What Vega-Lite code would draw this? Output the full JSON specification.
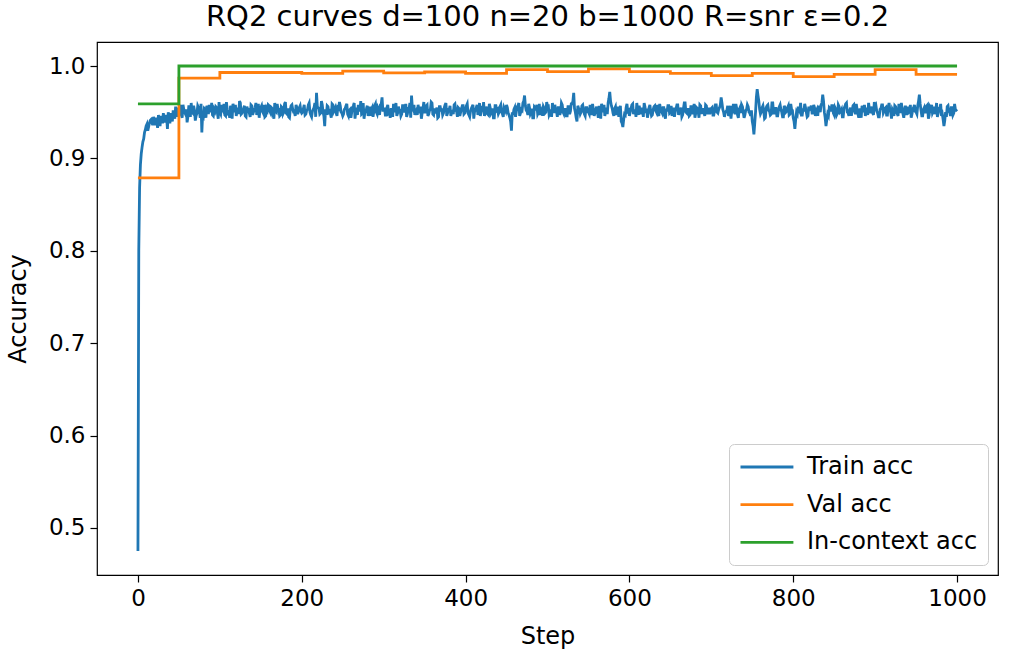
{
"$schema": "https://vega.github.io/schema/vega-lite/v6.json",
"width": 901, "height": 533,
"autosize": {"type": "none"},
"padding": {"left": 97, "top": 42, "right": 12, "bottom": 82},
"background": "white",
"config": {"font": "DejaVu Sans", "view": {"stroke": "black", "strokeWidth": 1.2}},
"title": {"text": "RQ2 curves d=100 n=20 b=1000 R=snr ε=0.2", "fontSize": 29, "fontWeight": "normal", "font": "DejaVu Sans", "color": "black", "offset": 10, "anchor": "middle"},
"datasets": {
"train": [
{"step":0,"acc":0.475},{"step":1,"acc":0.800},{"step":2,"acc":0.868},{"step":3,"acc":0.893},{"step":4,"acc":0.905},{"step":5,"acc":0.912},{"step":6,"acc":0.918},{"step":7,"acc":0.921},{"step":8,"acc":0.928},
{"step":10,"acc":0.935},{"step":12,"acc":0.930},{"step":14,"acc":0.938},{"step":16,"acc":0.942},{"step":18,"acc":0.936},{"step":20,"acc":0.941},{"step":22,"acc":0.944},{"step":24,"acc":0.933},{"step":26,"acc":0.940},{"step":28,"acc":0.946},{"step":30,"acc":0.938},{"step":32,"acc":0.943},{"step":34,"acc":0.947},{"step":36,"acc":0.932},{"step":38,"acc":0.944},{"step":40,"acc":0.949},{"step":42,"acc":0.940},{"step":44,"acc":0.948},{"step":46,"acc":0.956},{"step":48,"acc":0.945},
{"step":50,"acc":0.952},{"step":52,"acc":0.958},{"step":54,"acc":0.944},{"step":56,"acc":0.953},{"step":58,"acc":0.948},{"step":60,"acc":0.939},{"step":62,"acc":0.956},{"step":64,"acc":0.945},{"step":66,"acc":0.950},{"step":68,"acc":0.957},{"step":70,"acc":0.941},{"step":72,"acc":0.949},{"step":74,"acc":0.955},{"step":76,"acc":0.944},{"step":78,"acc":0.928},{"step":80,"acc":0.946},{"step":82,"acc":0.953},
{"step":84,"acc":0.957},{"step":86,"acc":0.948},{"step":88,"acc":0.953},{"step":90,"acc":0.960},{"step":92,"acc":0.946},{"step":94,"acc":0.951},{"step":96,"acc":0.955},{"step":98,"acc":0.943},{"step":100,"acc":0.950},{"step":102,"acc":0.958},{"step":104,"acc":0.952},{"step":106,"acc":0.947},{"step":108,"acc":0.961},{"step":110,"acc":0.949},{"step":112,"acc":0.944},{"step":114,"acc":0.954},{"step":116,"acc":0.959},{"step":118,"acc":0.950},{"step":120,"acc":0.946},{"step":122,"acc":0.955},{"step":124,"acc":0.962},{"step":126,"acc":0.948},{"step":128,"acc":0.951},{"step":130,"acc":0.957},{"step":132,"acc":0.945},{"step":134,"acc":0.953},{"step":136,"acc":0.949},{"step":138,"acc":0.958},{"step":140,"acc":0.947},{"step":142,"acc":0.952},{"step":144,"acc":0.960},{"step":146,"acc":0.950},{"step":148,"acc":0.944},
{"step":150,"acc":0.955},{"step":152,"acc":0.951},{"step":154,"acc":0.958},{"step":156,"acc":0.946},{"step":158,"acc":0.952},{"step":160,"acc":0.957},{"step":162,"acc":0.949},{"step":164,"acc":0.954},{"step":166,"acc":0.943},{"step":168,"acc":0.951},{"step":170,"acc":0.959},{"step":172,"acc":0.953},{"step":174,"acc":0.947},{"step":176,"acc":0.955},{"step":178,"acc":0.950},{"step":180,"acc":0.961},{"step":182,"acc":0.948},{"step":184,"acc":0.945},{"step":186,"acc":0.953},{"step":188,"acc":0.958},{"step":190,"acc":0.950},{"step":192,"acc":0.946},{"step":194,"acc":0.955},{"step":196,"acc":0.951},{"step":198,"acc":0.957},
{"step":200,"acc":0.949},{"step":202,"acc":0.954},{"step":204,"acc":0.947},{"step":206,"acc":0.952},{"step":208,"acc":0.958},{"step":210,"acc":0.950},{"step":212,"acc":0.945},{"step":214,"acc":0.953},{"step":216,"acc":0.960},{"step":218,"acc":0.971},{"step":220,"acc":0.955},{"step":222,"acc":0.948},{"step":224,"acc":0.962},{"step":226,"acc":0.950},{"step":228,"acc":0.935},{"step":230,"acc":0.947},{"step":232,"acc":0.956},{"step":234,"acc":0.951},{"step":236,"acc":0.944},{"step":238,"acc":0.958},{"step":240,"acc":0.953},{"step":242,"acc":0.949},{"step":244,"acc":0.955},{"step":246,"acc":0.961},{"step":248,"acc":0.950},
{"step":250,"acc":0.946},{"step":252,"acc":0.953},{"step":254,"acc":0.957},{"step":256,"acc":0.948},{"step":258,"acc":0.952},{"step":260,"acc":0.944},{"step":262,"acc":0.955},{"step":264,"acc":0.960},{"step":266,"acc":0.951},{"step":268,"acc":0.947},{"step":270,"acc":0.954},{"step":272,"acc":0.962},{"step":274,"acc":0.949},{"step":276,"acc":0.943},{"step":278,"acc":0.952},{"step":280,"acc":0.957},{"step":282,"acc":0.950},{"step":284,"acc":0.946},{"step":286,"acc":0.955},{"step":288,"acc":0.951},{"step":290,"acc":0.959},{"step":292,"acc":0.948},{"step":294,"acc":0.953},{"step":296,"acc":0.958},{"step":298,"acc":0.966},
{"step":300,"acc":0.952},{"step":302,"acc":0.947},{"step":304,"acc":0.955},{"step":306,"acc":0.949},{"step":308,"acc":0.944},{"step":310,"acc":0.953},{"step":312,"acc":0.959},{"step":314,"acc":0.950},{"step":316,"acc":0.946},{"step":318,"acc":0.956},{"step":320,"acc":0.952},{"step":322,"acc":0.948},{"step":324,"acc":0.957},{"step":326,"acc":0.951},{"step":328,"acc":0.945},{"step":330,"acc":0.954},{"step":332,"acc":0.960},{"step":334,"acc":0.968},{"step":336,"acc":0.953},{"step":338,"acc":0.947},{"step":340,"acc":0.952},{"step":342,"acc":0.958},{"step":344,"acc":0.949},{"step":346,"acc":0.943},{"step":348,"acc":0.954},
{"step":350,"acc":0.950},{"step":352,"acc":0.957},{"step":354,"acc":0.946},{"step":356,"acc":0.952},{"step":358,"acc":0.961},{"step":360,"acc":0.948},{"step":362,"acc":0.954},{"step":364,"acc":0.950},{"step":366,"acc":0.944},{"step":368,"acc":0.956},{"step":370,"acc":0.951},{"step":372,"acc":0.947},{"step":374,"acc":0.955},{"step":376,"acc":0.960},{"step":378,"acc":0.949},{"step":380,"acc":0.953},{"step":382,"acc":0.946},{"step":384,"acc":0.951},{"step":386,"acc":0.958},{"step":388,"acc":0.952},{"step":390,"acc":0.945},{"step":392,"acc":0.954},{"step":394,"acc":0.950},{"step":396,"acc":0.957},{"step":398,"acc":0.948},
{"step":400,"acc":0.953},{"step":402,"acc":0.959},{"step":404,"acc":0.947},{"step":406,"acc":0.951},{"step":408,"acc":0.956},{"step":410,"acc":0.943},{"step":412,"acc":0.952},{"step":414,"acc":0.958},{"step":416,"acc":0.950},{"step":418,"acc":0.946},{"step":420,"acc":0.954},{"step":422,"acc":0.961},{"step":424,"acc":0.949},{"step":426,"acc":0.953},{"step":428,"acc":0.947},{"step":430,"acc":0.955},{"step":432,"acc":0.951},{"step":434,"acc":0.944},{"step":436,"acc":0.957},{"step":438,"acc":0.952},{"step":440,"acc":0.948},{"step":442,"acc":0.956},{"step":444,"acc":0.950},{"step":446,"acc":0.945},{"step":448,"acc":0.953},
{"step":450,"acc":0.958},{"step":452,"acc":0.949},{"step":454,"acc":0.944},{"step":456,"acc":0.930},{"step":458,"acc":0.947},{"step":460,"acc":0.955},{"step":462,"acc":0.951},{"step":464,"acc":0.957},{"step":466,"acc":0.946},{"step":468,"acc":0.953},{"step":470,"acc":0.960},{"step":472,"acc":0.968},{"step":474,"acc":0.952},{"step":476,"acc":0.947},{"step":478,"acc":0.955},{"step":480,"acc":0.950},{"step":482,"acc":0.944},{"step":484,"acc":0.956},{"step":486,"acc":0.952},{"step":488,"acc":0.948},{"step":490,"acc":0.959},{"step":492,"acc":0.951},{"step":494,"acc":0.946},{"step":496,"acc":0.954},{"step":498,"acc":0.950},
{"step":500,"acc":0.957},{"step":502,"acc":0.947},{"step":504,"acc":0.953},{"step":506,"acc":0.960},{"step":508,"acc":0.949},{"step":510,"acc":0.952},{"step":512,"acc":0.945},{"step":514,"acc":0.955},{"step":516,"acc":0.950},{"step":518,"acc":0.958},{"step":520,"acc":0.948},{"step":522,"acc":0.953},{"step":524,"acc":0.946},{"step":526,"acc":0.956},{"step":528,"acc":0.951},{"step":530,"acc":0.959},{"step":532,"acc":0.971},{"step":534,"acc":0.950},{"step":536,"acc":0.940},{"step":538,"acc":0.954},{"step":540,"acc":0.948},{"step":542,"acc":0.957},{"step":544,"acc":0.952},{"step":546,"acc":0.946},{"step":548,"acc":0.955},
{"step":550,"acc":0.950},{"step":552,"acc":0.958},{"step":554,"acc":0.947},{"step":556,"acc":0.953},{"step":558,"acc":0.949},{"step":560,"acc":0.956},{"step":562,"acc":0.944},{"step":564,"acc":0.952},{"step":566,"acc":0.959},{"step":568,"acc":0.950},{"step":570,"acc":0.946},{"step":572,"acc":0.955},{"step":574,"acc":0.960},{"step":576,"acc":0.972},{"step":578,"acc":0.957},{"step":580,"acc":0.949},{"step":582,"acc":0.954},{"step":584,"acc":0.947},{"step":586,"acc":0.956},{"step":588,"acc":0.951},{"step":590,"acc":0.940},{"step":592,"acc":0.934},{"step":594,"acc":0.948},{"step":596,"acc":0.955},{"step":598,"acc":0.951},
{"step":600,"acc":0.946},{"step":602,"acc":0.954},{"step":604,"acc":0.959},{"step":606,"acc":0.950},{"step":608,"acc":0.945},{"step":610,"acc":0.953},{"step":612,"acc":0.957},{"step":614,"acc":0.948},{"step":616,"acc":0.952},{"step":618,"acc":0.960},{"step":620,"acc":0.949},{"step":622,"acc":0.944},{"step":624,"acc":0.955},{"step":626,"acc":0.951},{"step":628,"acc":0.947},{"step":630,"acc":0.956},{"step":632,"acc":0.952},{"step":634,"acc":0.958},{"step":636,"acc":0.946},{"step":638,"acc":0.953},{"step":640,"acc":0.949},{"step":642,"acc":0.955},{"step":644,"acc":0.943},{"step":646,"acc":0.951},{"step":648,"acc":0.957},
{"step":650,"acc":0.950},{"step":652,"acc":0.946},{"step":654,"acc":0.955},{"step":656,"acc":0.951},{"step":658,"acc":0.958},{"step":660,"acc":0.947},{"step":662,"acc":0.952},{"step":664,"acc":0.945},{"step":666,"acc":0.954},{"step":668,"acc":0.960},{"step":670,"acc":0.949},{"step":672,"acc":0.953},{"step":674,"acc":0.947},{"step":676,"acc":0.956},{"step":678,"acc":0.951},{"step":680,"acc":0.944},{"step":682,"acc":0.955},{"step":684,"acc":0.950},{"step":686,"acc":0.958},{"step":688,"acc":0.948},{"step":690,"acc":0.953},{"step":692,"acc":0.946},{"step":694,"acc":0.957},{"step":696,"acc":0.951},{"step":698,"acc":0.948},
{"step":700,"acc":0.954},{"step":702,"acc":0.947},{"step":704,"acc":0.952},{"step":706,"acc":0.958},{"step":708,"acc":0.949},{"step":710,"acc":0.955},{"step":712,"acc":0.966},{"step":714,"acc":0.953},{"step":716,"acc":0.945},{"step":718,"acc":0.951},{"step":720,"acc":0.957},{"step":722,"acc":0.948},{"step":724,"acc":0.943},{"step":726,"acc":0.954},{"step":728,"acc":0.950},{"step":730,"acc":0.959},{"step":732,"acc":0.947},{"step":734,"acc":0.953},{"step":736,"acc":0.949},{"step":738,"acc":0.956},{"step":740,"acc":0.944},{"step":742,"acc":0.952},{"step":744,"acc":0.958},{"step":746,"acc":0.950},{"step":748,"acc":0.946},
{"step":750,"acc":0.940},{"step":752,"acc":0.926},{"step":754,"acc":0.950},{"step":756,"acc":0.975},{"step":758,"acc":0.962},{"step":760,"acc":0.948},{"step":762,"acc":0.955},{"step":764,"acc":0.951},{"step":766,"acc":0.944},{"step":768,"acc":0.957},{"step":770,"acc":0.952},{"step":772,"acc":0.947},{"step":774,"acc":0.960},{"step":776,"acc":0.949},{"step":778,"acc":0.954},{"step":780,"acc":0.946},{"step":782,"acc":0.952},{"step":784,"acc":0.958},{"step":786,"acc":0.950},{"step":788,"acc":0.945},{"step":790,"acc":0.955},{"step":792,"acc":0.951},{"step":794,"acc":0.957},{"step":796,"acc":0.948},{"step":798,"acc":0.953},
{"step":800,"acc":0.944},{"step":802,"acc":0.932},{"step":804,"acc":0.950},{"step":806,"acc":0.956},{"step":808,"acc":0.951},{"step":810,"acc":0.947},{"step":812,"acc":0.954},{"step":814,"acc":0.959},{"step":816,"acc":0.950},{"step":818,"acc":0.946},{"step":820,"acc":0.953},{"step":822,"acc":0.957},{"step":824,"acc":0.949},{"step":826,"acc":0.955},{"step":828,"acc":0.951},{"step":830,"acc":0.946},{"step":832,"acc":0.954},{"step":834,"acc":0.958},{"step":836,"acc":0.969},{"step":838,"acc":0.950},{"step":840,"acc":0.935},{"step":842,"acc":0.948},{"step":844,"acc":0.955},{"step":846,"acc":0.951},{"step":848,"acc":0.957},
{"step":850,"acc":0.947},{"step":852,"acc":0.953},{"step":854,"acc":0.949},{"step":856,"acc":0.956},{"step":858,"acc":0.951},{"step":860,"acc":0.945},{"step":862,"acc":0.954},{"step":864,"acc":0.959},{"step":866,"acc":0.950},{"step":868,"acc":0.946},{"step":870,"acc":0.955},{"step":872,"acc":0.952},{"step":874,"acc":0.958},{"step":876,"acc":0.948},{"step":878,"acc":0.953},{"step":880,"acc":0.944},{"step":882,"acc":0.951},{"step":884,"acc":0.957},{"step":886,"acc":0.950},{"step":888,"acc":0.946},{"step":890,"acc":0.955},{"step":892,"acc":0.960},{"step":894,"acc":0.949},{"step":896,"acc":0.953},{"step":898,"acc":0.947},
{"step":900,"acc":0.955},{"step":902,"acc":0.951},{"step":904,"acc":0.945},{"step":906,"acc":0.953},{"step":908,"acc":0.958},{"step":910,"acc":0.949},{"step":912,"acc":0.954},{"step":914,"acc":0.947},{"step":916,"acc":0.956},{"step":918,"acc":0.952},{"step":920,"acc":0.943},{"step":922,"acc":0.951},{"step":924,"acc":0.957},{"step":926,"acc":0.950},{"step":928,"acc":0.946},{"step":930,"acc":0.955},{"step":932,"acc":0.960},{"step":934,"acc":0.948},{"step":936,"acc":0.953},{"step":938,"acc":0.947},{"step":940,"acc":0.956},{"step":942,"acc":0.951},{"step":944,"acc":0.944},{"step":946,"acc":0.953},{"step":948,"acc":0.958},
{"step":950,"acc":0.950},{"step":952,"acc":0.957},{"step":954,"acc":0.969},{"step":956,"acc":0.952},{"step":958,"acc":0.946},{"step":960,"acc":0.955},{"step":962,"acc":0.950},{"step":964,"acc":0.958},{"step":966,"acc":0.947},{"step":968,"acc":0.953},{"step":970,"acc":0.949},{"step":972,"acc":0.956},{"step":974,"acc":0.951},{"step":976,"acc":0.945},{"step":978,"acc":0.954},{"step":980,"acc":0.959},{"step":982,"acc":0.948},{"step":984,"acc":0.935},{"step":986,"acc":0.950},{"step":988,"acc":0.956},{"step":990,"acc":0.951},{"step":992,"acc":0.946},{"step":994,"acc":0.955},{"step":996,"acc":0.949},{"step":998,"acc":0.953},{"step":1000,"acc":0.951},
{"step":9,"acc":0.931},{"step":11,"acc":0.937},{"step":13,"acc":0.934},{"step":15,"acc":0.941},{"step":17,"acc":0.939},{"step":19,"acc":0.945},{"step":21,"acc":0.936},{"step":23,"acc":0.940},{"step":25,"acc":0.947},{"step":27,"acc":0.935},{"step":29,"acc":0.943},{"step":31,"acc":0.949},{"step":33,"acc":0.939},{"step":35,"acc":0.944},{"step":37,"acc":0.950},{"step":39,"acc":0.938},{"step":41,"acc":0.946},{"step":43,"acc":0.952},{"step":45,"acc":0.943},{"step":47,"acc":0.950},{"step":49,"acc":0.955},
{"step":51,"acc":0.955},{"step":53,"acc":0.947},{"step":55,"acc":0.958},{"step":57,"acc":0.950},{"step":59,"acc":0.953},{"step":61,"acc":0.945},{"step":63,"acc":0.956},{"step":65,"acc":0.960},{"step":67,"acc":0.949},{"step":69,"acc":0.952},{"step":71,"acc":0.946},{"step":73,"acc":0.957},{"step":75,"acc":0.951},{"step":77,"acc":0.959},{"step":79,"acc":0.948},{"step":81,"acc":0.954},{"step":83,"acc":0.944},{"step":85,"acc":0.955},{"step":87,"acc":0.958},{"step":89,"acc":0.950},{"step":91,"acc":0.947},{"step":93,"acc":0.953},{"step":95,"acc":0.956},{"step":97,"acc":0.949},{"step":99,"acc":0.961},
{"step":101,"acc":0.948},{"step":103,"acc":0.954},{"step":105,"acc":0.959},{"step":107,"acc":0.946},{"step":109,"acc":0.953},{"step":111,"acc":0.950},{"step":113,"acc":0.957},{"step":115,"acc":0.943},{"step":117,"acc":0.955},{"step":119,"acc":0.958},{"step":121,"acc":0.951},{"step":123,"acc":0.948},{"step":125,"acc":0.960},{"step":127,"acc":0.949},{"step":129,"acc":0.954},{"step":131,"acc":0.946},{"step":133,"acc":0.956},{"step":135,"acc":0.953},{"step":137,"acc":0.945},{"step":139,"acc":0.957},{"step":141,"acc":0.950},{"step":143,"acc":0.955},{"step":145,"acc":0.947},{"step":147,"acc":0.959},{"step":149,"acc":0.952},
{"step":151,"acc":0.957},{"step":153,"acc":0.949},{"step":155,"acc":0.945},{"step":157,"acc":0.954},{"step":159,"acc":0.958},{"step":161,"acc":0.951},{"step":163,"acc":0.955},{"step":165,"acc":0.947},{"step":167,"acc":0.960},{"step":169,"acc":0.950},{"step":171,"acc":0.953},{"step":173,"acc":0.946},{"step":175,"acc":0.956},{"step":177,"acc":0.948},{"step":179,"acc":0.959},{"step":181,"acc":0.949},{"step":183,"acc":0.954},{"step":185,"acc":0.944},{"step":187,"acc":0.957},{"step":189,"acc":0.953},{"step":191,"acc":0.950},{"step":193,"acc":0.958},{"step":195,"acc":0.948},{"step":197,"acc":0.955},{"step":199,"acc":0.951},
{"step":201,"acc":0.950},{"step":203,"acc":0.958},{"step":205,"acc":0.948},{"step":207,"acc":0.953},{"step":209,"acc":0.960},{"step":211,"acc":0.947},{"step":213,"acc":0.951},{"step":215,"acc":0.955},{"step":217,"acc":0.945},{"step":219,"acc":0.956},{"step":221,"acc":0.954},{"step":223,"acc":0.949},{"step":225,"acc":0.958},{"step":227,"acc":0.946},{"step":229,"acc":0.953},{"step":231,"acc":0.957},{"step":233,"acc":0.950},{"step":235,"acc":0.948},{"step":237,"acc":0.959},{"step":239,"acc":0.951},{"step":241,"acc":0.955},{"step":243,"acc":0.946},{"step":245,"acc":0.954},{"step":247,"acc":0.957},{"step":249,"acc":0.949},
{"step":251,"acc":0.948},{"step":253,"acc":0.954},{"step":255,"acc":0.959},{"step":257,"acc":0.946},{"step":259,"acc":0.953},{"step":261,"acc":0.950},{"step":263,"acc":0.957},{"step":265,"acc":0.943},{"step":267,"acc":0.955},{"step":269,"acc":0.958},{"step":271,"acc":0.951},{"step":273,"acc":0.948},{"step":275,"acc":0.960},{"step":277,"acc":0.949},{"step":279,"acc":0.954},{"step":281,"acc":0.946},{"step":283,"acc":0.956},{"step":285,"acc":0.953},{"step":287,"acc":0.945},{"step":289,"acc":0.957},{"step":291,"acc":0.950},{"step":293,"acc":0.955},{"step":295,"acc":0.947},{"step":297,"acc":0.959},{"step":299,"acc":0.952},
{"step":301,"acc":0.955},{"step":303,"acc":0.947},{"step":305,"acc":0.958},{"step":307,"acc":0.950},{"step":309,"acc":0.953},{"step":311,"acc":0.945},{"step":313,"acc":0.956},{"step":315,"acc":0.960},{"step":317,"acc":0.949},{"step":319,"acc":0.952},{"step":321,"acc":0.946},{"step":323,"acc":0.957},{"step":325,"acc":0.951},{"step":327,"acc":0.959},{"step":329,"acc":0.948},{"step":331,"acc":0.954},{"step":333,"acc":0.944},{"step":335,"acc":0.955},{"step":337,"acc":0.958},{"step":339,"acc":0.950},{"step":341,"acc":0.947},{"step":343,"acc":0.953},{"step":345,"acc":0.956},{"step":347,"acc":0.949},{"step":349,"acc":0.961},
{"step":351,"acc":0.950},{"step":353,"acc":0.958},{"step":355,"acc":0.948},{"step":357,"acc":0.953},{"step":359,"acc":0.960},{"step":361,"acc":0.947},{"step":363,"acc":0.951},{"step":365,"acc":0.955},{"step":367,"acc":0.945},{"step":369,"acc":0.956},{"step":371,"acc":0.954},{"step":373,"acc":0.949},{"step":375,"acc":0.958},{"step":377,"acc":0.946},{"step":379,"acc":0.953},{"step":381,"acc":0.957},{"step":383,"acc":0.950},{"step":385,"acc":0.948},{"step":387,"acc":0.959},{"step":389,"acc":0.951},{"step":391,"acc":0.955},{"step":393,"acc":0.946},{"step":395,"acc":0.954},{"step":397,"acc":0.957},{"step":399,"acc":0.949},
{"step":401,"acc":0.957},{"step":403,"acc":0.949},{"step":405,"acc":0.945},{"step":407,"acc":0.954},{"step":409,"acc":0.958},{"step":411,"acc":0.951},{"step":413,"acc":0.955},{"step":415,"acc":0.947},{"step":417,"acc":0.960},{"step":419,"acc":0.950},{"step":421,"acc":0.953},{"step":423,"acc":0.946},{"step":425,"acc":0.956},{"step":427,"acc":0.948},{"step":429,"acc":0.959},{"step":431,"acc":0.949},{"step":433,"acc":0.954},{"step":435,"acc":0.944},{"step":437,"acc":0.957},{"step":439,"acc":0.953},{"step":441,"acc":0.950},{"step":443,"acc":0.958},{"step":445,"acc":0.948},{"step":447,"acc":0.955},{"step":449,"acc":0.951},
{"step":451,"acc":0.955},{"step":453,"acc":0.947},{"step":455,"acc":0.940},{"step":457,"acc":0.950},{"step":459,"acc":0.953},{"step":461,"acc":0.945},{"step":463,"acc":0.956},{"step":465,"acc":0.960},{"step":467,"acc":0.949},{"step":469,"acc":0.952},{"step":471,"acc":0.962},{"step":473,"acc":0.957},{"step":475,"acc":0.951},{"step":477,"acc":0.959},{"step":479,"acc":0.948},{"step":481,"acc":0.954},{"step":483,"acc":0.944},{"step":485,"acc":0.955},{"step":487,"acc":0.958},{"step":489,"acc":0.950},{"step":491,"acc":0.947},{"step":493,"acc":0.953},{"step":495,"acc":0.956},{"step":497,"acc":0.949},{"step":499,"acc":0.961},
{"step":501,"acc":0.957},{"step":503,"acc":0.949},{"step":505,"acc":0.945},{"step":507,"acc":0.954},{"step":509,"acc":0.958},{"step":511,"acc":0.951},{"step":513,"acc":0.955},{"step":515,"acc":0.947},{"step":517,"acc":0.960},{"step":519,"acc":0.950},{"step":521,"acc":0.953},{"step":523,"acc":0.946},{"step":525,"acc":0.956},{"step":527,"acc":0.948},{"step":529,"acc":0.959},{"step":531,"acc":0.962},{"step":533,"acc":0.954},{"step":535,"acc":0.944},{"step":537,"acc":0.957},{"step":539,"acc":0.953},{"step":541,"acc":0.950},{"step":543,"acc":0.958},{"step":545,"acc":0.948},{"step":547,"acc":0.955},{"step":549,"acc":0.951},
{"step":551,"acc":0.948},{"step":553,"acc":0.954},{"step":555,"acc":0.959},{"step":557,"acc":0.946},{"step":559,"acc":0.953},{"step":561,"acc":0.950},{"step":563,"acc":0.957},{"step":565,"acc":0.943},{"step":567,"acc":0.955},{"step":569,"acc":0.958},{"step":571,"acc":0.951},{"step":573,"acc":0.948},{"step":575,"acc":0.965},{"step":577,"acc":0.962},{"step":579,"acc":0.954},{"step":581,"acc":0.946},{"step":583,"acc":0.956},{"step":585,"acc":0.953},{"step":587,"acc":0.945},{"step":589,"acc":0.957},{"step":591,"acc":0.938},{"step":593,"acc":0.942},{"step":595,"acc":0.947},{"step":597,"acc":0.959},{"step":599,"acc":0.952},
{"step":601,"acc":0.950},{"step":603,"acc":0.958},{"step":605,"acc":0.948},{"step":607,"acc":0.953},{"step":609,"acc":0.960},{"step":611,"acc":0.947},{"step":613,"acc":0.951},{"step":615,"acc":0.955},{"step":617,"acc":0.945},{"step":619,"acc":0.956},{"step":621,"acc":0.954},{"step":623,"acc":0.949},{"step":625,"acc":0.958},{"step":627,"acc":0.946},{"step":629,"acc":0.953},{"step":631,"acc":0.957},{"step":633,"acc":0.950},{"step":635,"acc":0.948},{"step":637,"acc":0.959},{"step":639,"acc":0.951},{"step":641,"acc":0.955},{"step":643,"acc":0.946},{"step":645,"acc":0.954},{"step":647,"acc":0.957},{"step":649,"acc":0.949},
{"step":651,"acc":0.957},{"step":653,"acc":0.949},{"step":655,"acc":0.945},{"step":657,"acc":0.954},{"step":659,"acc":0.958},{"step":661,"acc":0.951},{"step":663,"acc":0.955},{"step":665,"acc":0.947},{"step":667,"acc":0.960},{"step":669,"acc":0.950},{"step":671,"acc":0.953},{"step":673,"acc":0.946},{"step":675,"acc":0.956},{"step":677,"acc":0.948},{"step":679,"acc":0.959},{"step":681,"acc":0.949},{"step":683,"acc":0.954},{"step":685,"acc":0.944},{"step":687,"acc":0.957},{"step":689,"acc":0.953},{"step":691,"acc":0.950},{"step":693,"acc":0.958},{"step":695,"acc":0.948},{"step":697,"acc":0.955},{"step":699,"acc":0.951},
{"step":701,"acc":0.955},{"step":703,"acc":0.947},{"step":705,"acc":0.958},{"step":707,"acc":0.950},{"step":709,"acc":0.953},{"step":711,"acc":0.958},{"step":713,"acc":0.960},{"step":715,"acc":0.950},{"step":717,"acc":0.949},{"step":719,"acc":0.952},{"step":721,"acc":0.946},{"step":723,"acc":0.957},{"step":725,"acc":0.951},{"step":727,"acc":0.959},{"step":729,"acc":0.948},{"step":731,"acc":0.954},{"step":733,"acc":0.944},{"step":735,"acc":0.955},{"step":737,"acc":0.958},{"step":739,"acc":0.950},{"step":741,"acc":0.947},{"step":743,"acc":0.953},{"step":745,"acc":0.956},{"step":747,"acc":0.949},{"step":749,"acc":0.952},
{"step":751,"acc":0.935},{"step":753,"acc":0.938},{"step":755,"acc":0.966},{"step":757,"acc":0.968},{"step":759,"acc":0.953},{"step":761,"acc":0.950},{"step":763,"acc":0.957},{"step":765,"acc":0.943},{"step":767,"acc":0.955},{"step":769,"acc":0.958},{"step":771,"acc":0.951},{"step":773,"acc":0.948},{"step":775,"acc":0.960},{"step":777,"acc":0.949},{"step":779,"acc":0.954},{"step":781,"acc":0.946},{"step":783,"acc":0.956},{"step":785,"acc":0.953},{"step":787,"acc":0.945},{"step":789,"acc":0.957},{"step":791,"acc":0.950},{"step":793,"acc":0.955},{"step":795,"acc":0.947},{"step":797,"acc":0.959},{"step":799,"acc":0.952},
{"step":801,"acc":0.940},{"step":803,"acc":0.942},{"step":805,"acc":0.948},{"step":807,"acc":0.953},{"step":809,"acc":0.960},{"step":811,"acc":0.947},{"step":813,"acc":0.951},{"step":815,"acc":0.955},{"step":817,"acc":0.945},{"step":819,"acc":0.956},{"step":821,"acc":0.954},{"step":823,"acc":0.949},{"step":825,"acc":0.958},{"step":827,"acc":0.946},{"step":829,"acc":0.953},{"step":831,"acc":0.957},{"step":833,"acc":0.950},{"step":835,"acc":0.960},{"step":837,"acc":0.962},{"step":839,"acc":0.944},{"step":841,"acc":0.942},{"step":843,"acc":0.946},{"step":845,"acc":0.954},{"step":847,"acc":0.957},{"step":849,"acc":0.949},
{"step":851,"acc":0.955},{"step":853,"acc":0.947},{"step":855,"acc":0.958},{"step":857,"acc":0.950},{"step":859,"acc":0.953},{"step":861,"acc":0.945},{"step":863,"acc":0.956},{"step":865,"acc":0.960},{"step":867,"acc":0.949},{"step":869,"acc":0.952},{"step":871,"acc":0.946},{"step":873,"acc":0.957},{"step":875,"acc":0.951},{"step":877,"acc":0.959},{"step":879,"acc":0.948},{"step":881,"acc":0.954},{"step":883,"acc":0.944},{"step":885,"acc":0.955},{"step":887,"acc":0.958},{"step":889,"acc":0.950},{"step":891,"acc":0.947},{"step":893,"acc":0.953},{"step":895,"acc":0.956},{"step":897,"acc":0.949},{"step":899,"acc":0.961},
{"step":901,"acc":0.957},{"step":903,"acc":0.949},{"step":905,"acc":0.945},{"step":907,"acc":0.954},{"step":909,"acc":0.958},{"step":911,"acc":0.951},{"step":913,"acc":0.955},{"step":915,"acc":0.947},{"step":917,"acc":0.960},{"step":919,"acc":0.950},{"step":921,"acc":0.953},{"step":923,"acc":0.946},{"step":925,"acc":0.956},{"step":927,"acc":0.948},{"step":929,"acc":0.959},{"step":931,"acc":0.949},{"step":933,"acc":0.954},{"step":935,"acc":0.944},{"step":937,"acc":0.957},{"step":939,"acc":0.953},{"step":941,"acc":0.950},{"step":943,"acc":0.958},{"step":945,"acc":0.948},{"step":947,"acc":0.955},{"step":949,"acc":0.951},
{"step":951,"acc":0.948},{"step":953,"acc":0.962},{"step":955,"acc":0.959},{"step":957,"acc":0.946},{"step":959,"acc":0.953},{"step":961,"acc":0.950},{"step":963,"acc":0.957},{"step":965,"acc":0.943},{"step":967,"acc":0.955},{"step":969,"acc":0.958},{"step":971,"acc":0.951},{"step":973,"acc":0.948},{"step":975,"acc":0.960},{"step":977,"acc":0.949},{"step":979,"acc":0.954},{"step":981,"acc":0.946},{"step":983,"acc":0.942},{"step":985,"acc":0.941},{"step":987,"acc":0.945},{"step":989,"acc":0.957},{"step":991,"acc":0.950},{"step":993,"acc":0.955},{"step":995,"acc":0.947},{"step":997,"acc":0.959},{"step":999,"acc":0.952}
],
"evals": [
{"step":0,"val":0.879,"ic":0.959},{"step":50,"val":0.987,"ic":1.0},{"step":100,"val":0.993,"ic":1.0},{"step":150,"val":0.993,"ic":1.0},{"step":200,"val":0.992,"ic":1.0},{"step":250,"val":0.9945,"ic":1.0},{"step":300,"val":0.9925,"ic":1.0},{"step":350,"val":0.9935,"ic":1.0},{"step":400,"val":0.992,"ic":1.0},{"step":450,"val":0.996,"ic":1.0},{"step":500,"val":0.994,"ic":1.0},{"step":550,"val":0.997,"ic":1.0},{"step":600,"val":0.994,"ic":1.0},{"step":650,"val":0.992,"ic":1.0},{"step":700,"val":0.9895,"ic":1.0},{"step":750,"val":0.992,"ic":1.0},{"step":800,"val":0.9885,"ic":1.0},{"step":850,"val":0.991,"ic":1.0},{"step":900,"val":0.996,"ic":1.0},{"step":950,"val":0.991,"ic":1.0},{"step":1000,"val":0.991,"ic":1.0}
]
},
"encoding": {
"x": {"field": "step", "type": "quantitative", "scale": {"domain": [-50, 1050], "nice": false, "zero": false},
 "axis": {"title": "Step", "values": [0,200,400,600,800,1000], "format": "d", "grid": false, "domain": false, "ticks": true, "tickColor": "black", "tickSize": 7, "tickWidth": 1.2, "labelFontSize": 23, "labelColor": "black", "labelPadding": 5, "labelFont": "DejaVu Sans", "titleFont": "DejaVu Sans", "titleFontSize": 24, "titleFontWeight": "normal", "titleColor": "black", "titlePadding": 14}},
"color": {"scale": {"domain": ["Train acc", "Val acc", "In-context acc"], "range": ["#1f77b4", "#ff7f0e", "#2ca02c"]},
 "legend": {"title": null, "orient": "bottom-right", "offset": 10, "strokeColor": "#cccccc", "fillColor": "white", "cornerRadius": 5, "padding": 10, "labelFontSize": 24, "labelLimit": 400, "labelFont": "DejaVu Sans", "labelColor": "black", "symbolType": "M-1,0H3.6", "symbolStrokeWidth": 2.8, "symbolSize": 529, "rowPadding": 12.7, "labelOffset": 42}}
},
"layer": [
{"data": {"name": "train"}, "mark": {"type": "line", "strokeWidth": 2.8, "clip": true},
 "encoding": {
  "y": {"field": "acc", "type": "quantitative", "scale": {"domain": [0.449, 1.026], "nice": false, "zero": false},
   "axis": {"title": "Accuracy", "values": [0.5,0.6,0.7,0.8,0.9,1.0], "format": ".1f", "grid": false, "domain": false, "tickColor": "black", "tickSize": 7, "tickWidth": 1.2, "labelFontSize": 23, "labelColor": "black", "labelPadding": 5, "labelFont": "DejaVu Sans", "titleFont": "DejaVu Sans", "titleFontSize": 24, "titleFontWeight": "normal", "titleColor": "black", "titlePadding": 18}},
  "color": {"datum": "Train acc"}}},
{"data": {"name": "evals"}, "mark": {"type": "line", "strokeWidth": 2.8, "interpolate": "step-after", "clip": true},
 "encoding": {"y": {"field": "val", "type": "quantitative"}, "color": {"datum": "Val acc"}}},
{"data": {"name": "evals"}, "mark": {"type": "line", "strokeWidth": 2.8, "interpolate": "step-after", "clip": true},
 "encoding": {"y": {"field": "ic", "type": "quantitative"}, "color": {"datum": "In-context acc"}}}
]
}
